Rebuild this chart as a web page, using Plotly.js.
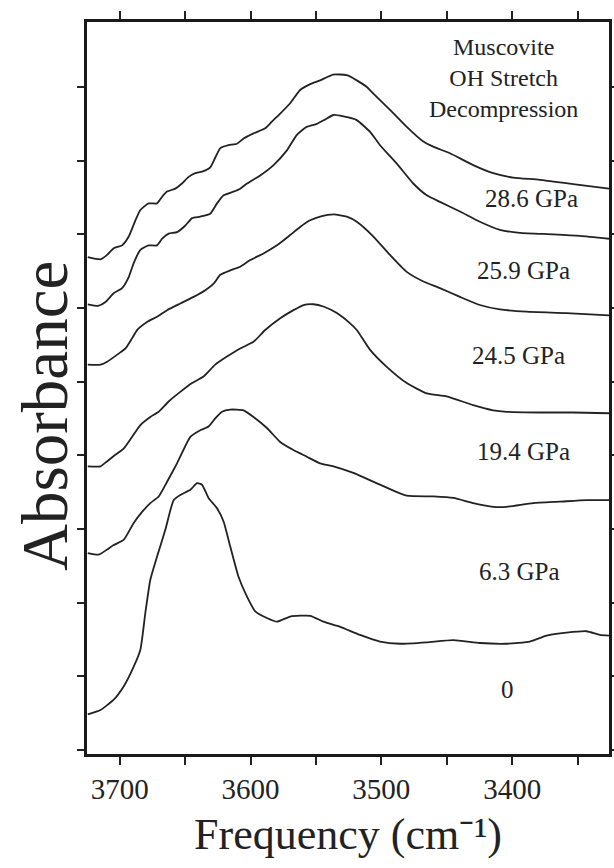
<!DOCTYPE html>
<html>
<head>
<meta charset="utf-8">
<script src="https://cdn.plot.ly/plotly-3.0.1.min.js"></script>
<style>html,body{margin:0;padding:0;background:#fff;}#chart{width:614px;height:868px;}</style>
</head>
<body>
<div id="chart"></div>
<script>
// Wavenumber (cm-1) and offset absorbance (arbitrary units)
const x286 = [3724.4,3714.7,3709.6,3704.6,3698.2,3693.1,3688.0,3684.2,3677.9,3671.5,3667.6,3663.8,3657.5,3652.4,3647.3,3642.2,3637.1,3630.8,3627.0,3623.1,3616.8,3610.4,3605.3,3597.7,3588.8,3583.7,3577.3,3569.7,3562.1,3554.4,3546.8,3536.9,3526.4,3518.8,3511.1,3506.1,3493.4,3480.6,3467.9,3460.3,3447.6,3429.8,3414.5,3399.2,3378.9,3353.4,3326.0];
const y286 = [6.69,6.66,6.72,6.81,6.85,6.97,7.19,7.33,7.42,7.42,7.51,7.58,7.62,7.69,7.78,7.83,7.85,7.91,8.04,8.17,8.21,8.23,8.30,8.37,8.44,8.53,8.64,8.78,8.96,9.04,9.09,9.17,9.16,9.09,9.00,8.91,8.69,8.46,8.26,8.19,8.10,7.94,7.83,7.77,7.74,7.68,7.62];

const x259 = [3724.4,3716.0,3710.9,3704.6,3698.2,3693.1,3689.3,3684.2,3677.9,3671.5,3667.6,3662.6,3656.2,3649.8,3644.7,3638.4,3630.8,3625.6,3620.6,3613.0,3607.9,3602.7,3592.6,3582.4,3572.2,3564.6,3557.0,3549.3,3543.0,3536.6,3529.0,3518.8,3508.6,3501.0,3488.2,3475.6,3465.3,3455.2,3439.9,3424.7,3409.4,3394.1,3368.7,3348.3,3326.0];
const y259 = [6.05,6.03,6.08,6.20,6.27,6.42,6.61,6.79,6.85,6.85,6.94,7.01,7.03,7.12,7.22,7.24,7.28,7.42,7.53,7.58,7.62,7.69,7.80,7.94,8.14,8.35,8.46,8.50,8.56,8.62,8.60,8.55,8.39,8.21,7.96,7.69,7.53,7.44,7.31,7.17,7.06,7.02,7.00,6.98,6.94];

const x245 = [3724.4,3714.7,3709.6,3700.8,3695.6,3690.5,3686.7,3679.1,3671.5,3663.8,3653.7,3643.5,3634.6,3628.2,3623.1,3615.5,3607.9,3600.2,3590.1,3579.8,3569.7,3562.1,3554.4,3546.8,3536.6,3526.4,3518.8,3506.1,3493.4,3480.6,3467.9,3455.2,3439.9,3424.7,3409.4,3389.0,3358.5,3326.0];
const y245 = [5.23,5.23,5.27,5.38,5.45,5.59,5.70,5.81,5.88,5.97,6.06,6.15,6.24,6.33,6.45,6.51,6.56,6.65,6.74,6.85,6.99,7.10,7.19,7.24,7.27,7.24,7.17,6.97,6.72,6.49,6.36,6.27,6.15,6.04,5.98,5.95,5.93,5.90];

const x194 = [3724.4,3714.7,3710.9,3704.6,3697.0,3690.5,3684.2,3676.6,3670.2,3662.6,3653.7,3644.7,3635.9,3627.0,3618.0,3607.9,3597.7,3588.8,3577.3,3567.2,3559.5,3551.9,3544.3,3534.0,3523.9,3518.8,3508.6,3495.9,3480.6,3465.3,3450.1,3429.8,3414.5,3404.3,3378.9,3353.4,3326.0];
const y194 = [3.85,3.85,3.90,3.99,4.09,4.25,4.41,4.52,4.59,4.73,4.86,4.98,5.07,5.23,5.34,5.45,5.54,5.70,5.86,5.97,6.04,6.05,6.02,5.93,5.79,5.70,5.43,5.20,4.98,4.84,4.80,4.68,4.61,4.59,4.58,4.58,4.57];

const x63 = [3724.4,3716.0,3709.6,3704.6,3697.0,3689.3,3682.9,3676.6,3670.2,3663.8,3656.2,3646.0,3638.4,3632.1,3627.0,3621.8,3615.5,3605.3,3597.7,3587.5,3577.3,3567.2,3557.0,3546.8,3536.6,3521.4,3501.0,3480.6,3460.3,3445.0,3429.8,3414.5,3404.3,3384.0,3363.6,3343.2,3326.0];
const y63 = [2.67,2.65,2.72,2.78,2.85,3.08,3.23,3.35,3.44,3.64,3.89,4.25,4.34,4.39,4.50,4.59,4.62,4.61,4.52,4.37,4.18,4.07,3.98,3.89,3.85,3.76,3.60,3.45,3.44,3.42,3.35,3.30,3.30,3.35,3.37,3.39,3.39];

const x0 = [3724.4,3714.7,3704.6,3697.0,3689.3,3684.2,3680.4,3676.6,3671.5,3665.1,3658.8,3653.7,3646.0,3640.9,3637.1,3632.1,3625.6,3620.6,3615.5,3609.2,3602.7,3596.4,3587.5,3579.8,3569.7,3554.4,3544.3,3531.5,3516.3,3501.0,3485.7,3465.3,3445.0,3424.7,3404.3,3386.5,3373.7,3358.5,3343.2,3333.1,3326.0];
const y0 = [0.48,0.54,0.68,0.86,1.13,1.36,1.86,2.31,2.62,2.99,3.39,3.46,3.53,3.62,3.60,3.42,3.28,3.10,2.76,2.35,2.08,1.88,1.79,1.74,1.81,1.82,1.74,1.67,1.56,1.47,1.44,1.46,1.49,1.45,1.44,1.47,1.55,1.59,1.61,1.56,1.55];

const pressureLabels = ['28.6 GPa','25.9 GPa','24.5 GPa','19.4 GPa','6.3 GPa','0'];
const titleLines = ['Muscovite','OH Stretch','Decompression'];
const xTickVals = [3700,3600,3500,3400];
const xTickText = ['3700','3600','3500','3400'];
const xMinorVals = [3650,3550,3450,3350];
const yTickVals = [0,1,2,3,4,5,6,7,8,9];

const lineStyle = {color:'#222', width:1.8, shape:'spline', smoothing:0.5};
const series = [[x286,y286],[x259,y259],[x245,y245],[x194,y194],[x63,y63],[x0,y0]];
const traces = series.map((s,i)=>({x:s[0], y:s[1], type:'scatter', mode:'lines', line:lineStyle, name:pressureLabels[i], hoverinfo:'skip'}));

const serif = 'Liberation Serif, Times New Roman, serif';
const labelPos = [[3385.2,7.49],[3391.6,6.51],[3395.4,5.36],[3391.6,4.05],[3394.1,2.42],[3403.5,0.815]];
const annotations = pressureLabels.map((t,i)=>({x:labelPos[i][0], y:labelPos[i][1], xref:'x', yref:'y', text:t, showarrow:false, font:{family:serif,size:25,color:'#222'}, xanchor:'center', yanchor:'middle'}));
annotations.push({x:3406.9, y:9.12, xref:'x', yref:'y', text:titleLines.join('<br>'), showarrow:false, align:'center', font:{family:serif,size:24,color:'#222'}, xanchor:'center', yanchor:'middle'});
annotations.push({x:-0.08, y:0.462, xref:'paper', yref:'paper', text:'Absorbance', textangle:-90, showarrow:false, font:{family:serif,size:65,color:'#222'}, xanchor:'center', yanchor:'middle'});

const layout = {
  width:614, height:868,
  margin:{l:87, r:5, t:22, b:114},
  paper_bgcolor:'#fff', plot_bgcolor:'#fff',
  showlegend:false,
  font:{family:serif, color:'#222'},
  xaxis:{
    range:[3725,3326], autorange:false,
    tickmode:'array', tickvals:xTickVals, ticktext:xTickText,
    ticks:'outside', ticklen:8, tickwidth:2, tickcolor:'#222',
    minor:{tickmode:'array', tickvals:xMinorVals, ticks:'outside', ticklen:8, tickwidth:2, tickcolor:'#222', showgrid:false},
    showline:true, linewidth:2.6, linecolor:'#1a1a1a', mirror:'ticks',
    showgrid:false, zeroline:false,
    tickfont:{family:serif, size:29, color:'#222'},
    title:{text:'Frequency (cm\u207B\u00B9)', font:{family:serif, size:44, color:'#222'}, standoff:14}
  },
  yaxis:{
    range:[-0.057,9.883], autorange:false,
    tickmode:'array', tickvals:yTickVals, showticklabels:false,
    ticks:'outside', ticklen:7, tickwidth:2, tickcolor:'#222',
    showline:true, linewidth:2.6, linecolor:'#1a1a1a', mirror:'ticks',
    showgrid:false, zeroline:false
  },
  annotations:annotations
};
Plotly.newPlot('chart', traces, layout, {staticPlot:true, displayModeBar:false}).then(function(){
  document.querySelectorAll('.js-plotly-tester').forEach(function(n){ n.remove(); });
  document.querySelectorAll('text').forEach(function(t){
    if(!t.textContent || !t.textContent.trim()) t.remove();
  });
});
</script>
</body>
</html>
